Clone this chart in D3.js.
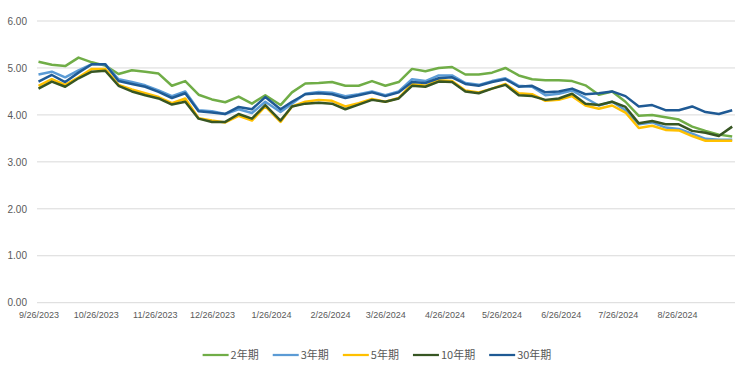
<!DOCTYPE html>
<html>
<head>
<meta charset="utf-8">
<script src="https://cdn.jsdelivr.net/npm/d3@7"></script>
<style>
  body { margin: 0; background: #fff; }
  text { fill: #595959; }
</style>
</head>
<body>
<div id="chart"></div>
<script>
// weekly observation dates
var dates = ["2023-09-26","2023-10-03","2023-10-10","2023-10-17","2023-10-24","2023-10-31","2023-11-07","2023-11-14","2023-11-21","2023-11-28",
  "2023-12-05","2023-12-12","2023-12-19","2023-12-26","2024-01-02","2024-01-09","2024-01-16","2024-01-23","2024-01-31","2024-02-06",
  "2024-02-13","2024-02-20","2024-02-27","2024-03-05","2024-03-12","2024-03-19","2024-03-26","2024-04-02","2024-04-09","2024-04-16",
  "2024-04-23","2024-04-30","2024-05-07","2024-05-14","2024-05-21","2024-05-28","2024-06-04","2024-06-11","2024-06-18","2024-06-25",
  "2024-07-02","2024-07-09","2024-07-16","2024-07-23","2024-07-30","2024-08-06","2024-08-13","2024-08-20","2024-08-27","2024-09-03",
  "2024-09-10","2024-09-17","2024-09-24"];

var y2 = [5.13,5.07,5.04,5.22,5.12,5.05,4.87,4.95,4.92,4.88, 4.62,4.72,4.43,4.33,4.27,4.39,4.24,4.42,4.21,4.48,
  4.67,4.68,4.70,4.62,4.62,4.72,4.62,4.70,4.98,4.93, 5.00,5.02,4.86,4.86,4.90,5.00,4.84,4.76,4.74,4.74,
  4.72,4.63,4.43,4.50,4.28,3.98,4.00,3.95,3.90,3.75, 3.66,3.58,3.54];
var y3 = [4.86,4.92,4.80,4.95,5.08,5.08,4.76,4.70,4.63,4.52, 4.40,4.50,4.10,4.08,4.02,4.12,4.04,4.28,4.06,4.24,
  4.45,4.49,4.47,4.40,4.44,4.50,4.42,4.50,4.76,4.72, 4.84,4.84,4.68,4.64,4.72,4.78,4.62,4.60,4.42,4.45,
  4.52,4.36,4.20,4.28,4.10,3.80,3.84,3.73,3.70,3.60, 3.49,3.47,3.47];
var y5 = [4.62,4.76,4.64,4.80,4.98,4.98,4.64,4.54,4.46,4.38, 4.25,4.35,3.93,3.88,3.84,3.98,3.88,4.18,3.85,4.18,
  4.28,4.32,4.30,4.18,4.25,4.34,4.28,4.36,4.66,4.62, 4.74,4.72,4.52,4.48,4.56,4.66,4.46,4.44,4.30,4.32,
  4.40,4.20,4.13,4.20,4.05,3.72,3.77,3.68,3.67,3.55, 3.45,3.45,3.45];
var y10 = [4.56,4.71,4.60,4.78,4.92,4.94,4.62,4.50,4.42,4.35, 4.22,4.28,3.92,3.85,3.85,4.02,3.92,4.21,3.88,4.18,
  4.24,4.26,4.24,4.12,4.22,4.32,4.28,4.35,4.62,4.60, 4.71,4.70,4.50,4.46,4.56,4.64,4.42,4.40,4.32,4.35,
  4.45,4.24,4.21,4.28,4.17,3.82,3.87,3.80,3.80,3.66, 3.62,3.55,3.75];
var y30 = [4.71,4.85,4.70,4.90,5.08,5.08,4.72,4.66,4.60,4.49, 4.36,4.46,4.08,4.05,4.02,4.17,4.12,4.38,4.12,4.28,
  4.44,4.46,4.44,4.36,4.42,4.48,4.40,4.48,4.70,4.68, 4.78,4.80,4.66,4.62,4.70,4.76,4.60,4.62,4.48,4.50,
  4.56,4.44,4.46,4.50,4.40,4.18,4.21,4.10,4.10,4.18, 4.06,4.02,4.10];

var seriesNames = ["2年期", "3年期", "5年期", "10年期", "30年期"];
var seriesColors = ["#70AD47", "#5B9BD5", "#FFC000", "#375623", "#1F5A94"];
var xTickLabels = ["9/26/2023","10/26/2023","11/26/2023","12/26/2023","1/26/2024","2/26/2024",
  "3/26/2024","4/26/2024","5/26/2024","6/26/2024","7/26/2024","8/26/2024"];
var yTicks = [0, 1, 2, 3, 4, 5, 6];

var width = 750, height = 384;
var plot = {left: 37, right: 735, top: 21, bottom: 302.7};

var svg = d3.select("#chart").append("svg")
    .attr("width", width)
    .attr("height", height);

var parseIso = d3.timeParse("%Y-%m-%d");
var parseTick = d3.timeParse("%m/%d/%Y");

var xScale = d3.scaleTime()
    .domain([parseIso("2023-09-26"), parseIso("2024-09-26")])
    .range([38.5, 736]);
var yScale = d3.scaleLinear()
    .domain([0, 6])
    .range([plot.bottom, plot.top]);

// gridlines
svg.append("g")
    .selectAll("line")
    .data(yTicks)
    .enter()
    .append("line")
    .attr("x1", plot.left)
    .attr("x2", plot.right)
    .attr("y1", function(d) { return yScale(d); })
    .attr("y2", function(d) { return yScale(d); })
    .style("stroke", "#D9D9D9")
    .style("stroke-width", 1);

// y axis labels
var yAxis = svg.append("g")
    .attr("transform", "translate(" + (plot.left - 10) + ",0)")
    .call(d3.axisLeft(yScale).tickValues(yTicks).tickSize(0).tickPadding(0).tickFormat(d3.format(".2f")));
yAxis.select(".domain").remove();
yAxis.selectAll("text")
    .style("font-family", "'Liberation Sans Narrow', 'Liberation Sans', sans-serif")
    .style("font-size", "10px")
    .style("fill", "#595959");

// x axis labels
var xAxis = svg.append("g")
    .attr("transform", "translate(0," + (plot.bottom + 9) + ")")
    .call(d3.axisBottom(xScale)
        .tickValues(xTickLabels.map(function(s) { return parseTick(s); }))
        .tickSize(0).tickPadding(0)
        .tickFormat(function(d, i) { return xTickLabels[i]; }));
xAxis.select(".domain").remove();
xAxis.selectAll("text")
    .style("font-family", "'Liberation Sans Narrow', 'Liberation Sans', sans-serif")
    .style("font-size", "9px")
    .style("fill", "#595959");

// lines
var allSeries = [y2, y3, y5, y10, y30];
var line = d3.line()
    .x(function(d, i) { return xScale(parseIso(dates[i])); })
    .y(function(d) { return yScale(d); });

svg.append("g")
    .selectAll("path")
    .data(allSeries)
    .enter()
    .append("path")
    .attr("d", function(d) { return line(d); })
    .style("fill", "none")
    .style("stroke", function(d, i) { return seriesColors[i]; })
    .style("stroke-width", 2.5)
    .style("stroke-linejoin", "round");

// legend
var legend = svg.append("g");
var lx = 0;
seriesNames.forEach(function(name, i) {
    var item = legend.append("g").attr("transform", "translate(" + lx + ",0)");
    item.append("line")
        .attr("x1", 0).attr("x2", 26)
        .attr("y1", 0).attr("y2", 0)
        .style("stroke", seriesColors[i])
        .style("stroke-width", 2.25);
    var t = item.append("text")
        .attr("x", 28)
        .attr("y", 4)
        .style("font-family", "'Noto Sans CJK SC', 'Liberation Sans', sans-serif")
        .style("font-size", "11px")
        .text(name);
    lx += 28 + t.node().getComputedTextLength() + 14;
});
lx -= 14;
legend.attr("transform", "translate(" + (377 - lx / 2) + ",355)");
</script>
</body>
</html>
